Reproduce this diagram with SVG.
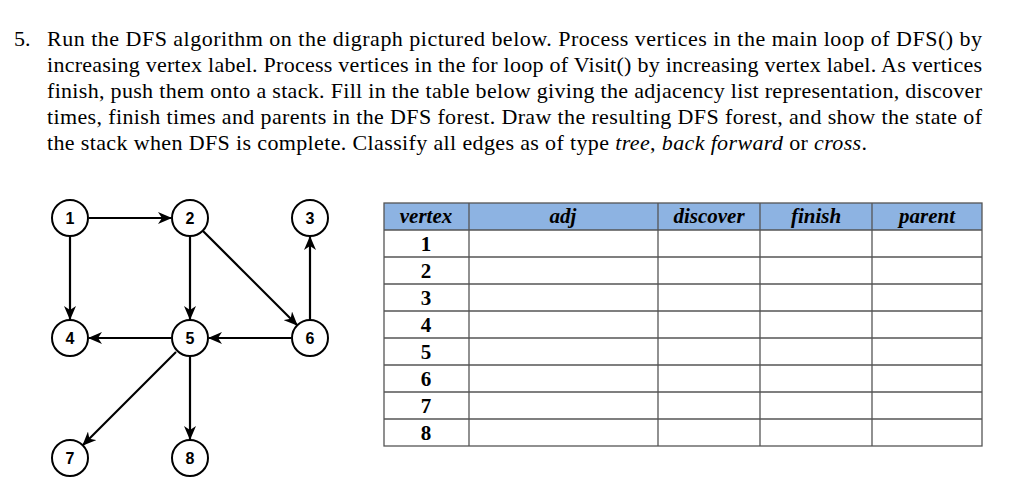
<svg xmlns="http://www.w3.org/2000/svg" width="1024" height="494" viewBox="0 0 1024 494">
<style>
.t{font-family:"Liberation Serif",serif;font-size:22px;fill:#000}
.n circle{fill:#fff;stroke:#000;stroke-width:2}
.n text{font-family:"Liberation Sans",sans-serif;font-size:16px;font-weight:bold;text-anchor:middle;fill:#000}
.e line{stroke:#000;stroke-width:2.2;marker-end:url(#a)}
.g line{stroke:#555;stroke-width:1.3}
.h{font-family:"Liberation Serif",serif;font-size:21px;font-weight:bold;font-style:italic;text-anchor:middle}
.v{font-family:"Liberation Serif",serif;font-size:21px;font-weight:bold;text-anchor:middle}
</style>
<defs><marker id="a" markerWidth="14" markerHeight="12" refX="13" refY="6" orient="auto" markerUnits="userSpaceOnUse"><path d="M0,0 L14,6 L0,12 L4,6 Z" fill="#000"/></marker></defs>
<rect width="1024" height="494" fill="#fff"/>
<text class="t" x="14" y="46">5.</text>
<text class="t" x="47" y="46" textLength="935" lengthAdjust="spacing">Run the DFS algorithm on the digraph pictured below.  Process vertices in the main loop of DFS() by</text>
<text class="t" x="47" y="72" textLength="935" lengthAdjust="spacing">increasing vertex label.  Process vertices in the for loop of Visit() by increasing vertex label.  As vertices</text>
<text class="t" x="47" y="98" textLength="935" lengthAdjust="spacing">finish, push them onto a stack.  Fill in the table below giving the adjacency list representation, discover</text>
<text class="t" x="47" y="124" textLength="935" lengthAdjust="spacing">times, finish times and parents in the DFS forest.  Draw the resulting DFS forest, and show the state of</text>
<text class="t" x="47" y="150" textLength="820" lengthAdjust="spacing">the stack when DFS is complete.  Classify all edges as of type <tspan font-style="italic">tree</tspan>, <tspan font-style="italic">back forward</tspan> or <tspan font-style="italic">cross</tspan>.</text>
<g class="e" id="edges">
<line x1="89" y1="218" x2="171" y2="218"/>
<line x1="70" y1="237" x2="70" y2="319"/>
<line x1="190" y1="237" x2="190" y2="319"/>
<line x1="203" y1="231" x2="297" y2="325"/>
<line x1="310" y1="319" x2="310" y2="237"/>
<line x1="291" y1="338" x2="209" y2="338"/>
<line x1="171" y1="338" x2="89" y2="338"/>
<line x1="176" y1="352" x2="83" y2="445"/>
<line x1="190" y1="357" x2="190" y2="439"/>
</g>
<g class="n" id="n1"><circle cx="70" cy="218" r="18"/><text x="70" y="224">1</text></g>
<g class="n" id="n2"><circle cx="190" cy="218" r="18"/><text x="190" y="224">2</text></g>
<g class="n" id="n3"><circle cx="310" cy="218" r="18"/><text x="310" y="224">3</text></g>
<g class="n" id="n4"><circle cx="70" cy="338" r="18"/><text x="70" y="344">4</text></g>
<g class="n" id="n5"><circle cx="190" cy="338" r="18"/><text x="190" y="344">5</text></g>
<g class="n" id="n6"><circle cx="310" cy="338" r="18"/><text x="310" y="344">6</text></g>
<g class="n" id="n7"><circle cx="70" cy="458" r="18"/><text x="70" y="464">7</text></g>
<g class="n" id="n8"><circle cx="190" cy="458" r="18"/><text x="190" y="464">8</text></g>
<g id="table">
<rect x="384" y="203" width="598" height="27" fill="#8db3e2"/>
<g class="g">
<rect x="384" y="203" width="598" height="243" fill="none" stroke="#555" stroke-width="1.3"/>
<line x1="469" y1="203" x2="469" y2="446"/><line x1="658" y1="203" x2="658" y2="446"/><line x1="760" y1="203" x2="760" y2="446"/><line x1="872" y1="203" x2="872" y2="446"/>
<line x1="384" y1="230" x2="982" y2="230"/><line x1="384" y1="257" x2="982" y2="257"/><line x1="384" y1="284" x2="982" y2="284"/><line x1="384" y1="311" x2="982" y2="311"/><line x1="384" y1="338" x2="982" y2="338"/><line x1="384" y1="365" x2="982" y2="365"/><line x1="384" y1="392" x2="982" y2="392"/><line x1="384" y1="419" x2="982" y2="419"/>
</g>
<text class="h" x="426" y="223">vertex</text><text class="h" x="563" y="223">adj</text><text class="h" x="709" y="223">discover</text><text class="h" x="816" y="223">finish</text><text class="h" x="927" y="223">parent</text>
<text class="v" x="426" y="251">1</text><text class="v" x="426" y="278">2</text><text class="v" x="426" y="305">3</text><text class="v" x="426" y="332">4</text><text class="v" x="426" y="359">5</text><text class="v" x="426" y="386">6</text><text class="v" x="426" y="413">7</text><text class="v" x="426" y="440">8</text>
</g>
</svg>
